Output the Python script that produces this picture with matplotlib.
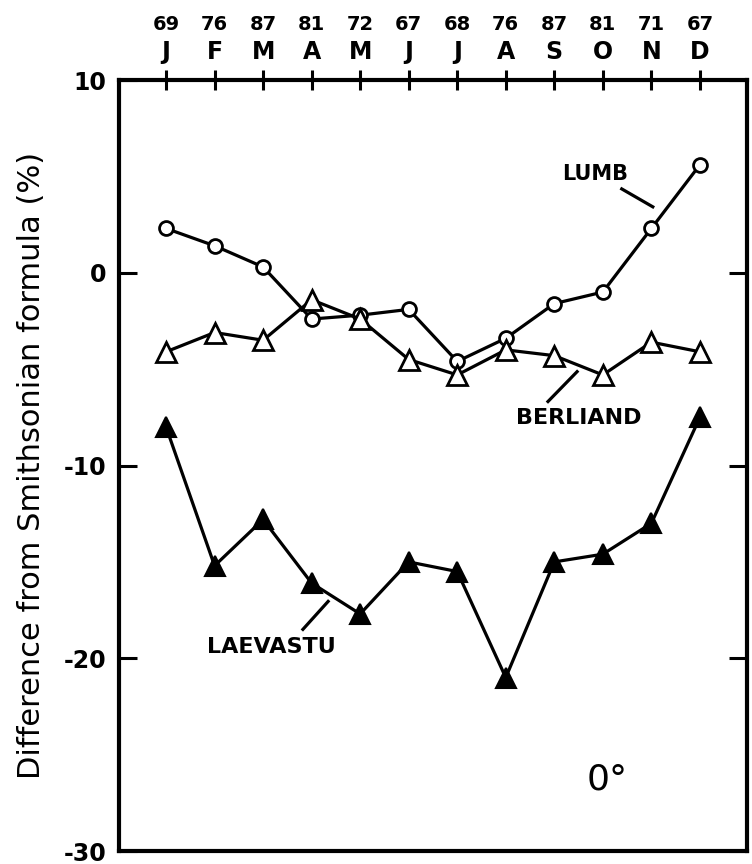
import numpy as np
import matplotlib
matplotlib.use("Agg")
import matplotlib.pyplot as plt

months = ["J", "F", "M", "A", "M", "J", "J", "A", "S", "O", "N", "D"]
counts = ["69", "76", "87", "81", "72", "67", "68", "76", "87", "81", "71", "67"]
x = np.arange(1, 13)

lumb = [2.3, 1.4, 0.3, -2.4, -2.2, -1.9, -4.6, -3.4, -1.6, -1.0, 2.3, 5.6]
berliand = [-4.1, -3.1, -3.5, -1.4, -2.4, -4.5, -5.3, -4.0, -4.3, -5.3, -3.6, -4.1]
laevastu = [-8.0, -15.2, -12.8, -16.1, -17.7, -15.0, -15.5, -21.0, -15.0, -14.6, -13.0, -7.5]

plt.rcParams["font.family"] = ["DejaVu Sans"]

fig = plt.figure(figsize=(7.52, 8.64), dpi=100)
ax = fig.add_axes([0.1582, 0.0150, 0.8351, 0.8924])

ax.plot(x, lumb, color="black", lw=2.3, marker="o", ms=10,
        mfc="white", mec="black", mew=2.0, zorder=3)
ax.plot(x, berliand, color="black", lw=2.3, marker="^", ms=15,
        mfc="white", mec="black", mew=2.0, zorder=3)
ax.plot(x, laevastu, color="black", lw=2.3, marker="^", ms=15,
        mfc="black", mec="black", mew=1.5, zorder=3)

ax.set_xlim(0.03, 12.97)
ax.set_ylim(-30, 10)

# month letters on top, sample counts above them
ax.xaxis.tick_top()
ax.set_xticks(x)
ax.set_xticklabels(months, fontsize=17, fontweight="bold")
ax.tick_params(axis="x", direction="inout", length=15, width=2.2, pad=4)

sec = ax.secondary_xaxis("top")
sec.set_xticks(x)
sec.set_xticklabels(counts, fontsize=14, fontweight="bold")
sec.tick_params(axis="x", length=0, pad=33)
sec.spines["top"].set_visible(False)

ax.set_yticks([10, 0, -10, -20, -30])
ax.set_yticklabels(["10", "0", "-10", "-20", "-30"], fontsize=17, fontweight="bold")
ax.tick_params(axis="y", direction="in", length=13, width=2.2, pad=9,
               left=True, right=True)

for s in ax.spines.values():
    s.set_linewidth(3)

ax.set_ylabel("Difference from Smithsonian formula (%)", fontsize=22, labelpad=13)

ax.text(9.85, 5.1, "LUMB", fontsize=15, fontweight="bold", ha="center", va="center")
ax.plot([10.39, 11.03], [4.35, 3.42], color="black", lw=2.3)

ax.text(9.51, -7.56, "BERLIAND", fontsize=16, fontweight="bold", ha="center", va="center")
ax.plot([8.87, 9.47], [-6.68, -5.13], color="black", lw=2.3)

ax.text(3.18, -19.43, "LAEVASTU", fontsize=16, fontweight="bold", ha="center", va="center")
ax.plot([3.82, 4.34], [-18.5, -17.05], color="black", lw=2.3)

ax.text(10.08, -26.3, "0°", fontsize=26, ha="center", va="center")

fig.savefig("out.png", dpi=100)
